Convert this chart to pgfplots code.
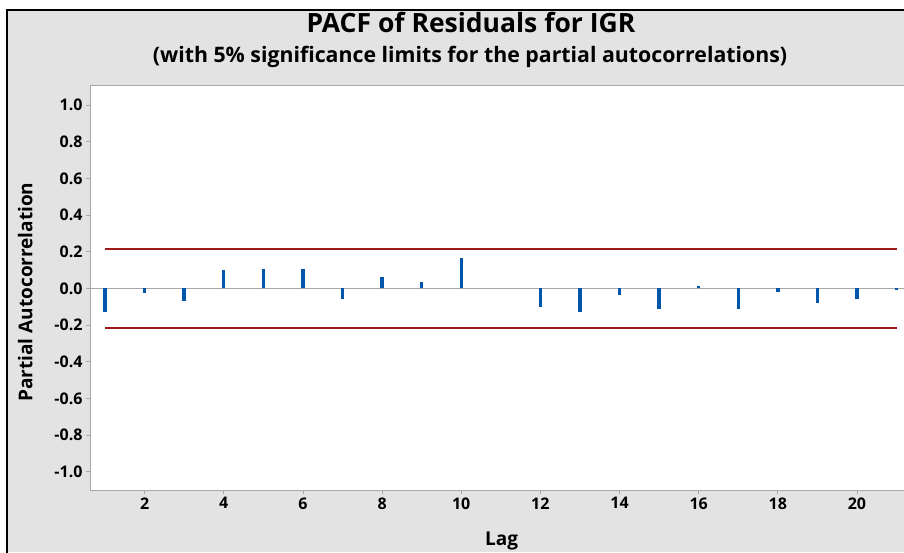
\documentclass[border=0pt]{standalone}
\usepackage{pgfplots}
\pgfplotsset{compat=1.18}
\usepackage{pgfplotstable}
\usepackage{fontspec}
\setmainfont{Open Sans}
\definecolor{panel}{HTML}{E3E3E3}
\definecolor{framegray}{HTML}{A8A8A8}
\definecolor{barblue}{HTML}{0056A8}
\definecolor{limitred}{HTML}{9E1A1A}

\pgfplotstableread{
lag pacf
1  -0.126
2  -0.025
3  -0.068
4   0.099
5   0.107
6   0.107
7  -0.060
8   0.064
9   0.033
10  0.166
11  0.000
12 -0.102
13 -0.126
14 -0.035
15 -0.112
16  0.011
17 -0.112
18 -0.018
19 -0.077
20 -0.060
21 -0.011
}\pacfdata

\begin{document}
\begin{tikzpicture}
\useasboundingbox (0pt,0pt) rectangle (904pt,552pt);
\fill[white] (0pt,0pt) rectangle (904pt,552pt);
\fill[panel] (7pt,0pt) rectangle (930pt,542pt);
\draw[black, line width=1.2pt] (7pt,-2pt) -- (7pt,542pt) -- (930pt,542pt);

\node[font=\bfseries\fontsize{26.5}{31}\selectfont, anchor=base] at (471pt,519pt) {PACF of Residuals for IGR};
\node[font=\bfseries\fontsize{21.3}{25}\selectfont, anchor=base] at (470pt,489pt) {(with 5\% significance limits for the partial autocorrelations)};

\begin{axis}[
    at={(90pt,62pt)}, anchor=south west,
    scale only axis, width=820pt, height=404pt,
    xmin=0.62, xmax=21.34, ymin=-1.1, ymax=1.105,
    axis y line*=left,
    axis background/.style={fill=white},
    axis line style={framegray, line width=1pt},
    xtick={2,4,...,20},
    ytick={-1,-0.8,-0.6,-0.4,-0.2,0,0.2,0.4,0.6,0.8,1},
    yticklabel style={/pgf/number format/.cd, fixed, fixed zerofill, precision=1},
    /pgf/number format/assume math mode=true,
    tick label style={font=\bfseries\fontsize{16}{18}\selectfont, black},
    tick style={framegray, line width=0.8pt},
    tick align=outside, major tick length=4pt,
    xtick pos=lower, ytick pos=left,
    xlabel={Lag}, ylabel={Partial Autocorrelation},
    label style={font=\bfseries\fontsize{19}{22}\selectfont},
    xlabel style={at={(axis description cs:0.502,-0.125)}, anchor=center},
    ylabel style={at={(axis description cs:-0.079,0.49)}, anchor=center, rotate=0},
  ]
  \addplot[framegray, line width=1.2pt] coordinates {(0.62,0) (21.34,0)};
  \addplot[limitred, line width=1.6pt] coordinates {(1,0.215) (21,0.215)};
  \addplot[limitred, line width=1.6pt] coordinates {(1,-0.215) (21,-0.215)};
  \addplot[ycomb, barblue, line width=3.4pt, mark=none] table[x=lag, y=pacf] {\pacfdata};
\end{axis}
\end{tikzpicture}
\end{document}
